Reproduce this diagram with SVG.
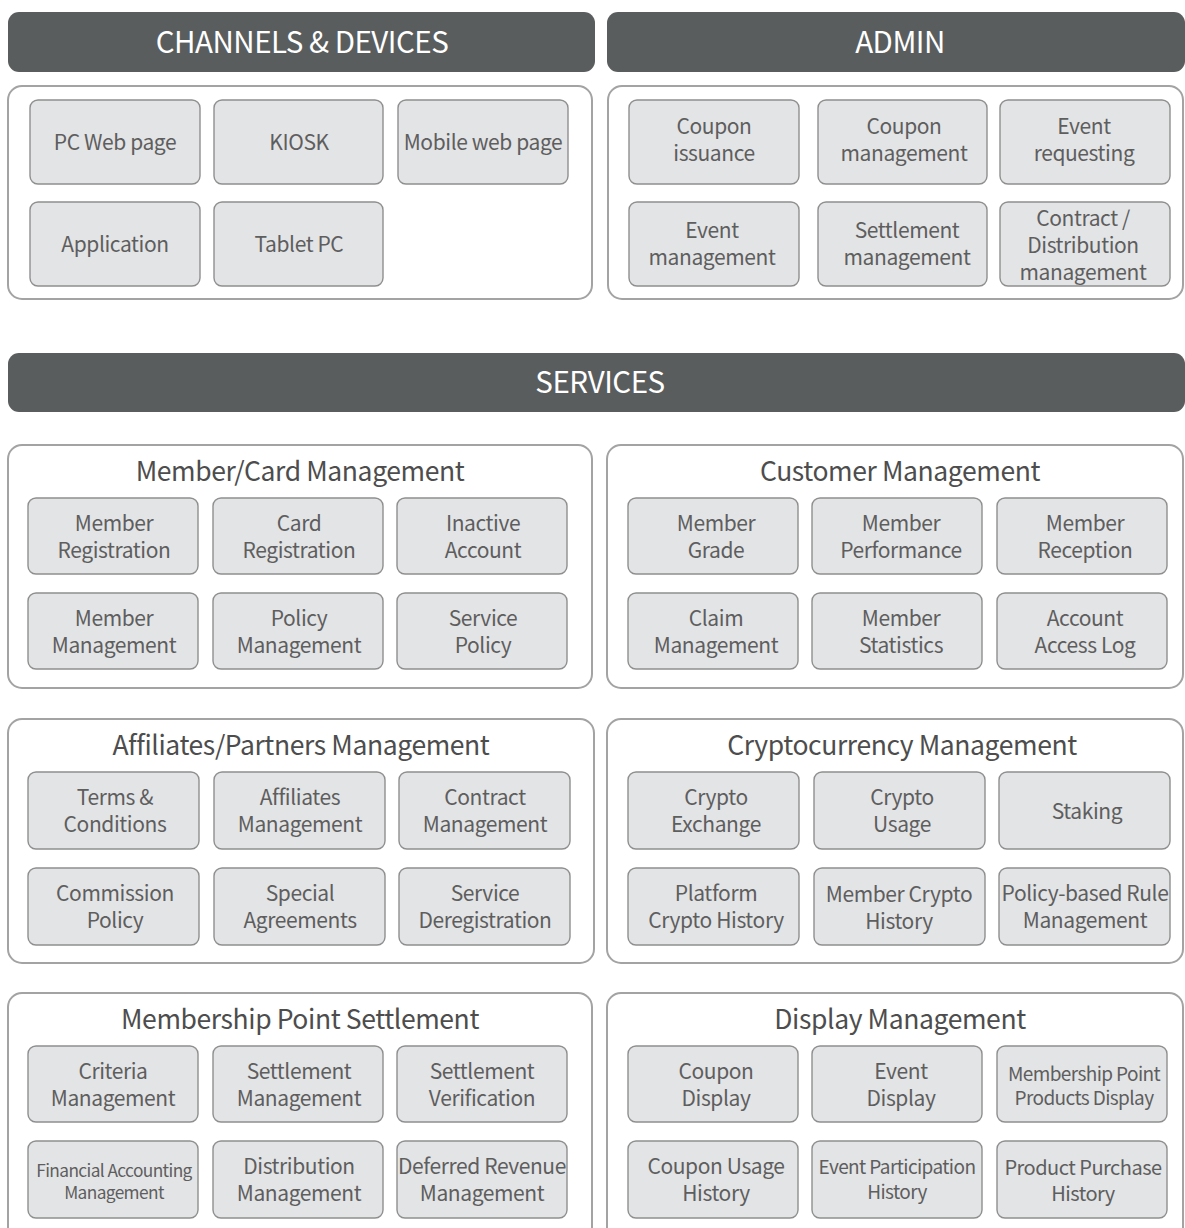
<svg xmlns="http://www.w3.org/2000/svg" width="1185" height="1228" viewBox="0 0 1185 1228">
<style>
.hdr{fill:#5a5d5e}
.hdrt{fill:#ffffff;font-family:"Noto Sans CJK KR","Noto Sans",sans-serif;font-size:29.5px;text-anchor:middle;letter-spacing:-0.5px}
.pnl{fill:#ffffff;stroke:#a3a3a3;stroke-width:2}
.pt{fill:#4d4d4d;font-family:"Noto Sans CJK KR","Noto Sans",sans-serif;font-size:26.5px;text-anchor:middle;letter-spacing:-0.4px}
.nd{fill:#e3e4e6;stroke:#8f8f8f;stroke-width:1.4}
.nt{fill:#5e5e5e;font-family:"Noto Sans CJK KR","Noto Sans",sans-serif;font-size:21px;text-anchor:middle;letter-spacing:-0.4px}
.s20{font-size:20px;letter-spacing:-0.5px}
.s19{font-size:19px;letter-spacing:-0.6px}
.s17{font-size:17.3px;letter-spacing:-0.6px}
</style>
<rect width="1185" height="1228" fill="#ffffff"/>

<g id="hdr-channels"><rect class="hdr" x="8" y="12" width="587" height="60" rx="11"/><text class="hdrt" x="302" y="53">CHANNELS &amp; DEVICES</text></g>
<g id="hdr-admin"><rect class="hdr" x="607" y="12" width="578" height="60" rx="11"/><text class="hdrt" x="900" y="53">ADMIN</text></g>

<g id="panel-channels"><rect class="pnl" x="8" y="86" width="584" height="213" rx="14"/></g>
<g id="panel-admin"><rect class="pnl" x="608" y="86" width="575" height="213" rx="14"/></g>

<g id="n-pcweb"><rect class="nd" x="30" y="100" width="170" height="84" rx="8"/><text class="nt" x="115" y="150">PC Web page</text></g>
<g id="n-kiosk"><rect class="nd" x="214" y="100" width="169" height="84" rx="8"/><text class="nt" x="299" y="150">KIOSK</text></g>
<g id="n-mobile"><rect class="nd" x="398" y="100" width="170" height="84" rx="8"/><text class="nt" x="483" y="150">Mobile web page</text></g>
<g id="n-app"><rect class="nd" x="30" y="202" width="170" height="84" rx="8"/><text class="nt" x="115" y="252">Application</text></g>
<g id="n-tablet"><rect class="nd" x="214" y="202" width="169" height="84" rx="8"/><text class="nt" x="299" y="252">Tablet PC</text></g>

<g id="n-coupon-iss"><rect class="nd" x="629" y="100" width="170" height="84" rx="8"/><text class="nt" x="714" y="134">Coupon</text><text class="nt" x="714" y="161">issuance</text></g>
<g id="n-coupon-mgmt"><rect class="nd" x="818" y="100" width="169" height="84" rx="8"/><text class="nt" x="904" y="134">Coupon</text><text class="nt" x="904" y="161">management</text></g>
<g id="n-event-req"><rect class="nd" x="1000" y="100" width="170" height="84" rx="8"/><text class="nt" x="1084" y="134">Event</text><text class="nt" x="1084" y="161">requesting</text></g>
<g id="n-event-mgmt"><rect class="nd" x="629" y="202" width="170" height="84" rx="8"/><text class="nt" x="712" y="238">Event</text><text class="nt" x="712" y="265">management</text></g>
<g id="n-settle-mgmt"><rect class="nd" x="818" y="202" width="169" height="84" rx="8"/><text class="nt" x="907" y="238">Settlement</text><text class="nt" x="907" y="265">management</text></g>
<g id="n-contract"><rect class="nd" x="1000" y="202" width="170" height="84" rx="8"/><text class="nt" x="1083" y="226">Contract /</text><text class="nt" x="1083" y="253">Distribution</text><text class="nt" x="1083" y="280">management</text></g>

<g id="hdr-services"><rect class="hdr" x="8" y="353" width="1177" height="59" rx="11"/><text class="hdrt" x="600" y="393">SERVICES</text></g>

<g id="panel-member-card"><rect class="pnl" x="8" y="445" width="584" height="243" rx="14"/><text class="pt" x="300" y="481">Member/Card Management</text></g>
<g id="n-mem-reg"><rect class="nd" x="28" y="498" width="170" height="76" rx="8"/><text class="nt" x="114" y="531">Member</text><text class="nt" x="114" y="558">Registration</text></g>
<g id="n-card-reg"><rect class="nd" x="213" y="498" width="170" height="76" rx="8"/><text class="nt" x="299" y="531">Card</text><text class="nt" x="299" y="558">Registration</text></g>
<g id="n-inactive"><rect class="nd" x="397" y="498" width="170" height="76" rx="8"/><text class="nt" x="483" y="531">Inactive</text><text class="nt" x="483" y="558">Account</text></g>
<g id="n-mem-mgmt"><rect class="nd" x="28" y="593" width="170" height="76" rx="8"/><text class="nt" x="114" y="626">Member</text><text class="nt" x="114" y="653">Management</text></g>
<g id="n-policy-mgmt"><rect class="nd" x="213" y="593" width="170" height="76" rx="8"/><text class="nt" x="299" y="626">Policy</text><text class="nt" x="299" y="653">Management</text></g>
<g id="n-service-policy"><rect class="nd" x="397" y="593" width="170" height="76" rx="8"/><text class="nt" x="483" y="626">Service</text><text class="nt" x="483" y="653">Policy</text></g>

<g id="panel-customer"><rect class="pnl" x="607" y="445" width="576" height="243" rx="14"/><text class="pt" x="900" y="481">Customer Management</text></g>
<g id="n-grade"><rect class="nd" x="628" y="498" width="170" height="76" rx="8"/><text class="nt" x="716" y="531">Member</text><text class="nt" x="716" y="558">Grade</text></g>
<g id="n-perf"><rect class="nd" x="812" y="498" width="170" height="76" rx="8"/><text class="nt" x="901" y="531">Member</text><text class="nt" x="901" y="558">Performance</text></g>
<g id="n-reception"><rect class="nd" x="997" y="498" width="170" height="76" rx="8"/><text class="nt" x="1085" y="531">Member</text><text class="nt" x="1085" y="558">Reception</text></g>
<g id="n-claim"><rect class="nd" x="628" y="593" width="170" height="76" rx="8"/><text class="nt" x="716" y="626">Claim</text><text class="nt" x="716" y="653">Management</text></g>
<g id="n-stats"><rect class="nd" x="812" y="593" width="170" height="76" rx="8"/><text class="nt" x="901" y="626">Member</text><text class="nt" x="901" y="653">Statistics</text></g>
<g id="n-access-log"><rect class="nd" x="997" y="593" width="170" height="76" rx="8"/><text class="nt" x="1085" y="626">Account</text><text class="nt" x="1085" y="653">Access Log</text></g>

<g id="panel-affiliates"><rect class="pnl" x="8" y="719" width="586" height="244" rx="14"/><text class="pt" x="301" y="755">Affiliates/Partners Management</text></g>
<g id="n-terms"><rect class="nd" x="28" y="772" width="171" height="77" rx="8"/><text class="nt" x="115" y="805">Terms &amp;</text><text class="nt" x="115" y="832">Conditions</text></g>
<g id="n-aff-mgmt"><rect class="nd" x="214" y="772" width="171" height="77" rx="8"/><text class="nt" x="300" y="805">Affiliates</text><text class="nt" x="300" y="832">Management</text></g>
<g id="n-contract-mgmt"><rect class="nd" x="399" y="772" width="171" height="77" rx="8"/><text class="nt" x="485" y="805">Contract</text><text class="nt" x="485" y="832">Management</text></g>
<g id="n-commission"><rect class="nd" x="28" y="868" width="171" height="77" rx="8"/><text class="nt" x="115" y="901">Commission</text><text class="nt" x="115" y="928">Policy</text></g>
<g id="n-special"><rect class="nd" x="214" y="868" width="171" height="77" rx="8"/><text class="nt" x="300" y="901">Special</text><text class="nt" x="300" y="928">Agreements</text></g>
<g id="n-dereg"><rect class="nd" x="399" y="868" width="171" height="77" rx="8"/><text class="nt" x="485" y="901">Service</text><text class="nt" x="485" y="928">Deregistration</text></g>

<g id="panel-crypto"><rect class="pnl" x="607" y="719" width="576" height="244" rx="14"/><text class="pt" x="902" y="755">Cryptocurrency Management</text></g>
<g id="n-crypto-ex"><rect class="nd" x="628" y="772" width="171" height="77" rx="8"/><text class="nt" x="716" y="805">Crypto</text><text class="nt" x="716" y="832">Exchange</text></g>
<g id="n-crypto-usage"><rect class="nd" x="814" y="772" width="171" height="77" rx="8"/><text class="nt" x="902" y="805">Crypto</text><text class="nt" x="902" y="832">Usage</text></g>
<g id="n-staking"><rect class="nd" x="999" y="772" width="171" height="77" rx="8"/><text class="nt" x="1087" y="819">Staking</text></g>
<g id="n-platform-hist"><rect class="nd" x="628" y="868" width="171" height="77" rx="8"/><text class="nt" x="716" y="901">Platform</text><text class="nt" x="716" y="928">Crypto History</text></g>
<g id="n-member-crypto"><rect class="nd" x="814" y="868" width="171" height="77" rx="8"/><text class="nt" x="899" y="902">Member Crypto</text><text class="nt" x="899" y="929">History</text></g>
<g id="n-policy-rule"><rect class="nd" x="999" y="868" width="171" height="77" rx="8"/><text class="nt" x="1085" y="901">Policy-based Rule</text><text class="nt" x="1085" y="928">Management</text></g>

<g id="panel-mps"><rect class="pnl" x="8" y="993" width="584" height="270" rx="14"/><text class="pt" x="300" y="1029">Membership Point Settlement</text></g>
<g id="n-criteria"><rect class="nd" x="28" y="1046" width="170" height="76" rx="8"/><text class="nt" x="113" y="1079">Criteria</text><text class="nt" x="113" y="1106">Management</text></g>
<g id="n-settle-mgmt2"><rect class="nd" x="213" y="1046" width="170" height="76" rx="8"/><text class="nt" x="299" y="1079">Settlement</text><text class="nt" x="299" y="1106">Management</text></g>
<g id="n-settle-verif"><rect class="nd" x="397" y="1046" width="170" height="76" rx="8"/><text class="nt" x="482" y="1079">Settlement</text><text class="nt" x="482" y="1106">Verification</text></g>
<g id="n-fin-acct"><rect class="nd" x="28" y="1141" width="170" height="77" rx="8"/><text class="nt s17" x="114" y="1177">Financial Accounting</text><text class="nt s17" x="114" y="1199">Management</text></g>
<g id="n-distribution"><rect class="nd" x="213" y="1141" width="170" height="77" rx="8"/><text class="nt" x="299" y="1174">Distribution</text><text class="nt" x="299" y="1201">Management</text></g>
<g id="n-deferred"><rect class="nd" x="397" y="1141" width="170" height="77" rx="8"/><text class="nt" x="482" y="1174">Deferred Revenue</text><text class="nt" x="482" y="1201">Management</text></g>

<g id="panel-display"><rect class="pnl" x="607" y="993" width="576" height="270" rx="14"/><text class="pt" x="900" y="1029">Display Management</text></g>
<g id="n-coupon-disp"><rect class="nd" x="628" y="1046" width="170" height="76" rx="8"/><text class="nt" x="716" y="1079">Coupon</text><text class="nt" x="716" y="1106">Display</text></g>
<g id="n-event-disp"><rect class="nd" x="812" y="1046" width="170" height="76" rx="8"/><text class="nt" x="901" y="1079">Event</text><text class="nt" x="901" y="1106">Display</text></g>
<g id="n-mp-products"><rect class="nd" x="997" y="1046" width="170" height="76" rx="8"/><text class="nt s19" x="1084" y="1081">Membership Point</text><text class="nt s19" x="1084" y="1105">Products Display</text></g>
<g id="n-coupon-usage"><rect class="nd" x="628" y="1141" width="170" height="77" rx="8"/><text class="nt" x="716" y="1174">Coupon Usage</text><text class="nt" x="716" y="1201">History</text></g>
<g id="n-event-part"><rect class="nd" x="812" y="1141" width="170" height="77" rx="8"/><text class="nt s19" x="897" y="1174">Event Participation</text><text class="nt s19" x="897" y="1199">History</text></g>
<g id="n-product-purchase"><rect class="nd" x="997" y="1141" width="170" height="77" rx="8"/><text class="nt s20" x="1083" y="1175">Product Purchase</text><text class="nt s20" x="1083" y="1201">History</text></g>

<g id="connectors"></g>
</svg>
